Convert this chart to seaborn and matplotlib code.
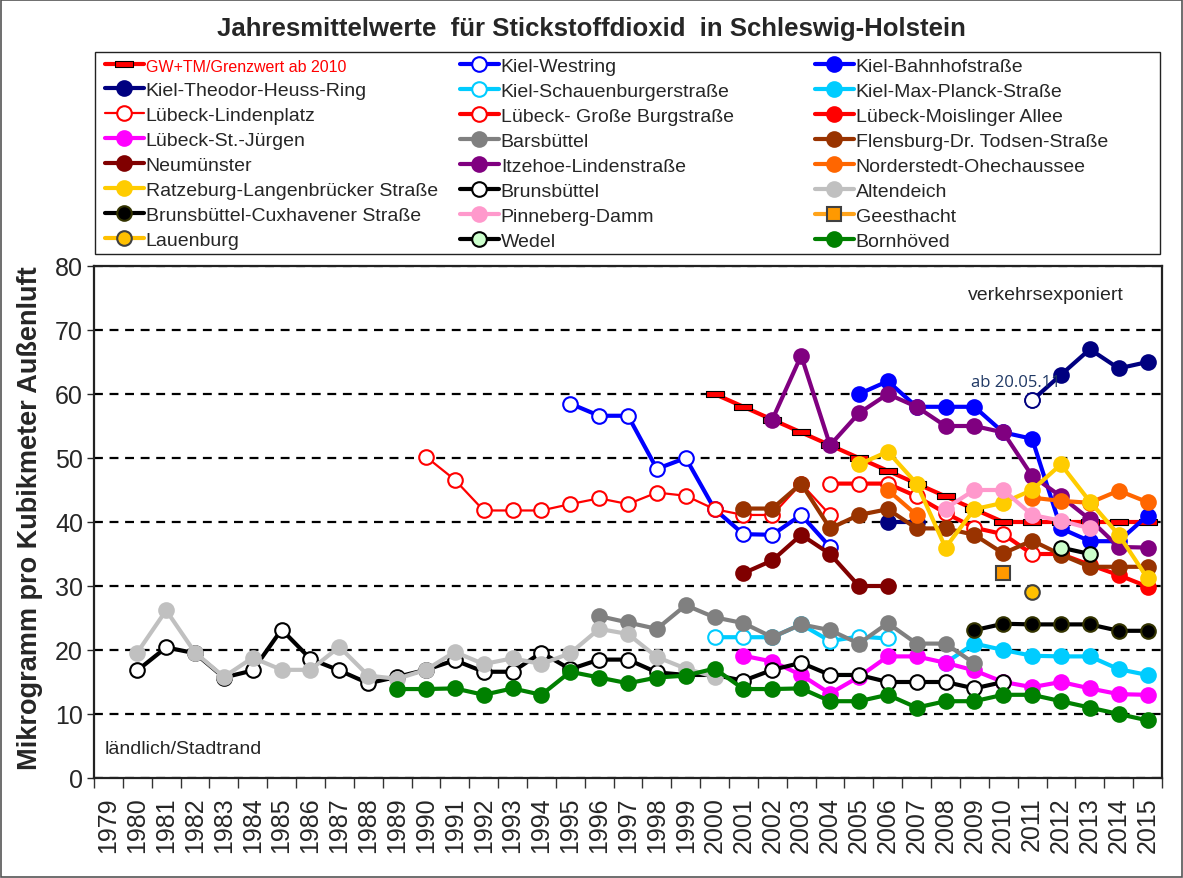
"""NO2 annual means in Schleswig-Holstein, 1979-2015."""

import matplotlib

matplotlib.use("Agg")
import matplotlib.pyplot as plt
import numpy as np
import pandas as pd
import seaborn as sns
from matplotlib.patches import Rectangle

YEARS = list(range(1979, 2016))

gw_years = list(range(2000, 2016))
gw_values = [60, 58, 56, 54, 52, 50, 48, 46, 44, 42, 40, 40, 40, 40, 40, 40]

westring_years = list(range(1995, 2005))
westring_values = [58.5, 56.6, 56.6, 48.3, 50.0, 42.0, 38.1, 38.0, 41.1, 36.1]

bahnhof_years = list(range(2005, 2016))
bahnhof_values = [60, 62, 58, 58, 58, 54, 53, 39, 37, 37, 41]

thr_years = [2006, 2007, 2011, 2012, 2013, 2014, 2015]
thr_values = [40, 40, 59, 63, 67, 64, 65]
thr_open_year = [2011]
thr_open_value = [59]
thr_note = "ab 20.05.11"

schauenburger_years = list(range(2000, 2007))
schauenburger_values = [22, 22, 22, 24, 21.4, 22.1, 21.8]

maxplanck_years = list(range(2008, 2016))
maxplanck_values = [18, 21, 20, 19.1, 19, 19, 17, 16.1]

lindenplatz_years = list(range(1990, 2005))
lindenplatz_values = [50.2, 46.6, 41.8, 41.8, 41.8, 42.8, 43.7, 42.8, 44.6, 44.1,
                      42.0, 41.1, 41.1, 46, 41.1]

grosseburg_years = list(range(2004, 2013))
grosseburg_values = [46, 46, 46, 44, 41.4, 39.1, 38.1, 35, 35]

moislinger_years = [2012, 2013, 2014, 2015]
moislinger_values = [35, 33.3, 31.7, 29.9]

stjuergen_years = list(range(2001, 2016))
stjuergen_values = [19.1, 18.2, 16.1, 13.2, 15.8, 19, 19, 18, 16.8, 15, 14.2, 15, 14, 13.1, 13]

barsbuettel_years = list(range(1996, 2010))
barsbuettel_values = [25.3, 24.3, 23.3, 27.0, 25.1, 24.2, 22.0, 24.0, 23.1, 21.0, 24.2, 21, 21, 17.9]

flensburg_years = list(range(2001, 2016))
flensburg_values = [42.1, 42.1, 46, 39, 41.1, 42, 39, 39, 38, 35.1, 37.1, 34.9, 33, 33, 33]

neumuenster_years = list(range(2001, 2007))
neumuenster_values = [32, 34, 38, 35, 30, 30]

itzehoe_years = list(range(2002, 2016))
itzehoe_values = [56, 66, 52, 57, 60, 58, 55, 55, 54, 47.2, 44, 40.4, 36.1, 36]

norderstedt_years = [2006, 2007, 2011, 2012, 2013, 2014, 2015]
norderstedt_values = [45, 41.1, 43.8, 43.3, 43, 44.9, 43.1]

ratzeburg_years = list(range(2005, 2016))
ratzeburg_values = [49, 51, 46, 36, 42, 43, 45, 49, 43.2, 38, 31.2]

brunsbuettel_years = list(range(1980, 2011))
brunsbuettel_values = [16.8, 20.4, 19.5, 15.7, 16.8, 23.2, 18.6, 16.8, 14.8, 15.8,
                       16.9, 18.4, 16.6, 16.6, 19.6, 17.0, 18.5, 18.5, 16.5, 16.1,
                       16.1, 15.2, 16.9, 18.0, 16.1, 16.1, 15, 15, 15, 14, 15]

altendeich_years = list(range(1980, 2001))
altendeich_values = [19.6, 26.2, 19.6, 15.8, 18.8, 16.9, 16.9, 20.5, 16.0, 15.5,
                     16.9, 19.7, 17.8, 18.7, 17.8, 19.5, 23.3, 22.5, 18.9, 17.1, 15.8]

cuxhavener_years = list(range(2009, 2016))
cuxhavener_values = [23.1, 24.1, 24, 24, 24, 23, 23]

pinneberg_years = list(range(2008, 2014))
pinneberg_values = [42.1, 45, 45, 41.1, 40.2, 39]

geesthacht_years = [2010]
geesthacht_values = [32]

lauenburg_years = [2011]
lauenburg_values = [29]

wedel_years = [2012, 2013]
wedel_values = [36, 35]

bornhoeved_years = list(range(1989, 2016))
bornhoeved_values = [13.9, 13.9, 14, 13, 14, 13, 16.6, 15.7, 14.8, 15.7, 16.0, 17.1,
                     13.9, 13.9, 14, 12, 12, 13, 11, 12, 12, 13, 13, 12, 11, 10, 9]

W, H = 1183, 879
RECT_MARKER = [(-1.6, -0.5), (1.6, -0.5), (1.6, 0.5), (-1.6, 0.5), (-1.6, -0.5)]


def style(label, years, values, color, face=None, edge=None, lw=3.0, marker="o", ms=10.5, mew=1.5):
    return dict(label=label, years=years, values=values, color=color,
                face=color if face is None else face, edge=color if edge is None else edge,
                lw=lw, marker=marker, ms=ms, mew=mew)


# drawing order == legend order (row by row, three columns)
series = [
    style("GW+TM/Grenzwert ab 2010", gw_years, gw_values, "#FF0000", "#FF0000", "#000000",
          lw=3.0, marker=RECT_MARKER, ms=13, mew=0.8),
    style("Kiel-Westring", westring_years, westring_values, "#0000FF", face="white"),
    style("Kiel-Bahnhofstraße", bahnhof_years, bahnhof_values, "#0000FF"),
    style("Kiel-Theodor-Heuss-Ring", thr_years, thr_values, "#000080"),
    style("Kiel-Schauenburgerstraße", schauenburger_years, schauenburger_values, "#00CCFF", face="white"),
    style("Kiel-Max-Planck-Straße", maxplanck_years, maxplanck_values, "#00CCFF"),
    style("Lübeck-Lindenplatz", lindenplatz_years, lindenplatz_values, "#FF0000", face="white", lw=1.6),
    style("Lübeck- Große Burgstraße", grosseburg_years, grosseburg_values, "#FF0000", face="white"),
    style("Lübeck-Moislinger Allee", moislinger_years, moislinger_values, "#FF0000"),
    style("Lübeck-St.-Jürgen", stjuergen_years, stjuergen_values, "#FF00FF"),
    style("Barsbüttel", barsbuettel_years, barsbuettel_values, "#808080"),
    style("Flensburg-Dr. Todsen-Straße", flensburg_years, flensburg_values, "#993300"),
    style("Neumünster", neumuenster_years, neumuenster_values, "#800000"),
    style("Itzehoe-Lindenstraße", itzehoe_years, itzehoe_values, "#800080"),
    style("Norderstedt-Ohechaussee", norderstedt_years, norderstedt_values, "#FF6600"),
    style("Ratzeburg-Langenbrücker Straße", ratzeburg_years, ratzeburg_values, "#FFCC00"),
    style("Brunsbüttel", brunsbuettel_years, brunsbuettel_values, "#000000", face="white"),
    style("Altendeich", altendeich_years, altendeich_values, "#C0C0C0"),
    style("Brunsbüttel-Cuxhavener Straße", cuxhavener_years, cuxhavener_values, "#000000", edge="#333300"),
    style("Pinneberg-Damm", pinneberg_years, pinneberg_values, "#FF99CC"),
    style("Geesthacht", geesthacht_years, geesthacht_values, "#FFA31A", face="#FF9900",
          edge="#404040", marker="s", ms=10),
    style("Lauenburg", lauenburg_years, lauenburg_values, "#FFC000", edge="#404040"),
    style("Wedel", wedel_years, wedel_values, "#000000", face="#CCFFCC"),
    style("Bornhöved", bornhoeved_years, bornhoeved_values, "#008000"),
]


def draw_series(ax, spec):
    """Draw one station; gaps in the years break the line."""
    frame = pd.DataFrame({"year": spec["years"], "value": spec["values"]})
    segment = (frame["year"].diff() > 1).cumsum()
    for i, (_, part) in enumerate(frame.groupby(segment)):
        sns.lineplot(
            data=part, x="year", y="value", ax=ax, estimator=None, sort=False,
            color=spec["color"], lw=spec["lw"], marker=spec["marker"], markersize=spec["ms"],
            markerfacecolor=spec["face"], markeredgecolor=spec["edge"], markeredgewidth=spec["mew"],
            label=spec["label"] if i == 0 else "_nolegend_",
        )


sns.set_style("ticks")
plt.rcParams["font.family"] = ["Liberation Sans", "DejaVu Sans"]

fig = plt.figure(figsize=(W / 100, H / 100), dpi=100)
ax = fig.add_axes([94 / W, 1 - 779 / H, 1068 / W, 512 / H])

for spec in series:
    draw_series(ax, spec)

sns.lineplot(x=thr_open_year, y=thr_open_value, ax=ax, color="#000080", marker="o",
             markersize=10.5, markerfacecolor="white", markeredgecolor="#000080",
             markeredgewidth=1.2, label="_nolegend_")
ax.annotate(thr_note, xy=(thr_open_year[0], thr_open_value[0]), xytext=(-44, 13),
            textcoords="offset points", ha="left", va="center", fontsize=12,
            color="#1F3864", family=["Open Sans", "DejaVu Sans"])

handles, labels = ax.get_legend_handles_labels()
if ax.get_legend() is not None:
    ax.get_legend().remove()

# axes
ax.set_xlim(YEARS[0] - 0.5, YEARS[-1] + 0.5)
ax.set_ylim(0, 80)
ax.set_xticks(YEARS)
ax.set_xticklabels([str(y) for y in YEARS], rotation=90, fontsize=18)
ax.set_xticks([y - 0.5 for y in YEARS] + [YEARS[-1] + 0.5], minor=True)
ax.tick_params(axis="x", which="major", length=0, pad=13)
ax.tick_params(axis="x", which="minor", length=7, width=1, direction="out", color="#333333")
ax.set_yticks(np.arange(0, 81, 10))
ax.tick_params(axis="y", labelsize=18, length=5, width=1, pad=3)
ax.set_xlabel("")
ax.set_ylabel("")
ax.yaxis.grid(True, linestyle=(0, (4, 3)), color="black", lw=1.6)
ax.set_axisbelow(True)
for side in ["left", "right", "top", "bottom"]:
    ax.spines[side].set_visible(True)
    ax.spines[side].set_linewidth(1.6)
    ax.spines[side].set_color("#222222")

ax.text(0.818, 0.945, "verkehrsexponiert", transform=ax.transAxes, fontsize=14,
        ha="left", va="center")
ax.text(0.010, 0.057, "ländlich/Stadtrand", transform=ax.transAxes, fontsize=14,
        ha="left", va="center")

fig.text(30 / W, 1 - 518 / H, "Mikrogramm pro Kubikmeter Außenluft", rotation=90,
         fontsize=19.5, fontweight="bold", ha="center", va="center")
fig.text(0.5, 1 - 29 / H, "Jahresmittelwerte  für Stickstoffdioxid  in Schleswig-Holstein",
         fontsize=18.5, fontweight="bold", ha="center", va="center")

# legend: three separate columns, each eight rows, inside one frame
col_x = [105, 460, 815]
for c, x0 in enumerate(col_x):
    leg = fig.legend(handles[c::3], labels[c::3], loc="upper left",
                     bbox_to_anchor=(x0 / W, 1 - 58 / H), frameon=False, fontsize=14,
                     handlelength=2.0, handletextpad=0.1, labelspacing=0.38,
                     borderpad=0, borderaxespad=0)
    if c == 0:
        leg.get_texts()[0].set_color("#FF0000")
        leg.get_texts()[0].set_fontsize(11.5)
fig.add_artist(Rectangle((95 / W, 1 - 255 / H), 1065 / W, 202 / H, transform=fig.transFigure,
                         fill=False, edgecolor="#222222", lw=1.0))
fig.add_artist(Rectangle((0.001, 0.001), 0.998, 0.998, transform=fig.transFigure,
                         fill=False, edgecolor="#555555", lw=1.2))

fig.savefig("out.png", dpi=100)
plt.close(fig)
